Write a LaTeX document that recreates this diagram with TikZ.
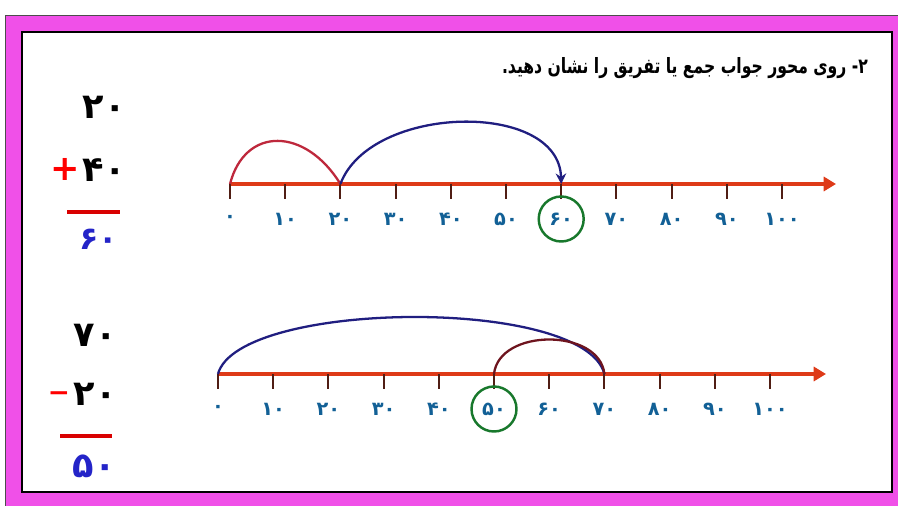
\documentclass[tikz,border=0pt]{standalone}
\usepackage{fontspec}
\usepackage{xcolor}
\TeXXeTstate=1
\newfontfamily\arabicfont[Script=Arabic]{DejaVu Sans}
\newfontfamily\titlefont[Script=Arabic, FakeStretch=0.74]{DejaVu Sans}
\usetikzlibrary{arrows.meta,positioning}
\definecolor{framepink}{RGB}{240,80,232}
\definecolor{axisred}{RGB}{222,58,24}
\definecolor{tickbrown}{RGB}{80,30,20}
\definecolor{labelblue}{RGB}{18,96,150}
\definecolor{arcred}{RGB}{190,40,60}
\definecolor{arcnavy}{RGB}{32,30,128}
\definecolor{arcmaroon}{RGB}{110,20,30}
\definecolor{answergreen}{RGB}{24,120,44}
\definecolor{sumblue}{RGB}{36,36,200}

\begin{document}
\begin{tikzpicture}[
    x=0.02cm, y=-0.02cm,
    axis/.style={draw=axisred, line width=2.2pt, -{Triangle[length=7pt,width=8pt]}},
    tickmark/.style={draw=tickbrown, line width=1.2pt},
    numlabel/.style={font=\arabicfont\bfseries\fontsize{11}{12}\selectfont, text=labelblue},
    bignum/.style={font=\arabicfont\bfseries\fontsize{20}{22}\selectfont, anchor=east},
    signmark/.style={font=\arabicfont\bfseries\fontsize{20}{22}\selectfont, text=red},
    answer/.style={circle, draw=answergreen, line width=1.4pt, minimum size=0.9cm, inner sep=0pt},
    jump/.style={line width=1.3pt},
]
    \useasboundingbox (0,0) rectangle (898,506);
    % frame
    \fill[white] (0,0) rectangle (898,506);
    \fill[framepink, draw=black!70, line width=0.5pt] (5,15) rectangle (904,512);
    \draw[fill=white, line width=1.2pt] (22,32) rectangle (892,492);

    \node[anchor=east, font=\titlefont\bfseries\fontsize{12}{14}\selectfont] (title) at (874,68)
        {\beginR ۲- روی محور جواب جمع یا تفریق را نشان دهید.\endR};

    % addition
    \node[bignum] (a1) at (132,107) {۲۰};
    \node[bignum] (a2) at (132,170) {۴۰};
    \node[signmark] (plus) at (65,169) {+};
    \draw[red!85!black, line width=2pt] (67,212) coordinate (r1) -- (120,212) coordinate (r2);
    \node[bignum, text=sumblue, font=\arabicfont\bfseries\fontsize{18}{20}\selectfont] (a3) at (124,239) {۶۰};

    \coordinate (tend) at (836,184);
    \draw[axis] (230,184) coordinate (t) -- (tend);
    \foreach \i/\lab in {0/۰,1/۱۰,2/۲۰,3/۳۰,4/۴۰,5/۵۰,6/۶۰,7/۷۰,8/۸۰,9/۹۰,10/۱۰۰} {
        \coordinate (t\i) at (230+55.2*\i,184);
        \draw[tickmark] (t\i) -- ++(0,15);
        \node[numlabel] (tl\i) at (230+55.2*\i,219) {\lab};
    }
    \draw[jump, arcred] (t0) .. controls +(15,-58) and +(-35,-57) .. (t2);
    \draw[jump, arcnavy, -{Stealth[length=6pt,width=6pt]}] (t2) .. controls +(30,-80) and +(-2,-84) .. (t6);
    \node[answer] (ans1) at (tl6) {};

    % subtraction
    \node[bignum] (s1) at (123,335) {۷۰};
    \node[bignum] (s2) at (123,394) {۲۰};
    \node[signmark, font=\arabicfont\bfseries\fontsize{15}{16}\selectfont] (minus) at (59,397) {−};
    \draw[red!85!black, line width=2pt] (60,436) coordinate (r3) -- (112,436) coordinate (r4);
    \node[bignum, text=sumblue] (s3) at (122,466) {۵۰};

    \coordinate (bend) at (826,374);
    \draw[axis] (218,374) coordinate (b) -- (bend);
    \foreach \i/\lab in {0/۰,1/۱۰,2/۲۰,3/۳۰,4/۴۰,5/۵۰,6/۶۰,7/۷۰,8/۸۰,9/۹۰,10/۱۰۰} {
        \coordinate (b\i) at (218+55.2*\i,374);
        \draw[tickmark] (b\i) -- ++(0,15);
        \node[numlabel] (bl\i) at (218+55.2*\i,409) {\lab};
    }
    \draw[jump, arcnavy] (b0) .. controls +(20,-74) and +(-20,-78) .. (b7);
    \draw[jump, arcmaroon] (b5) .. controls +(5,-46) and +(-5,-46) .. (b7);
    \node[answer] (ans2) at (bl5) {};
\end{tikzpicture}
\end{document}
